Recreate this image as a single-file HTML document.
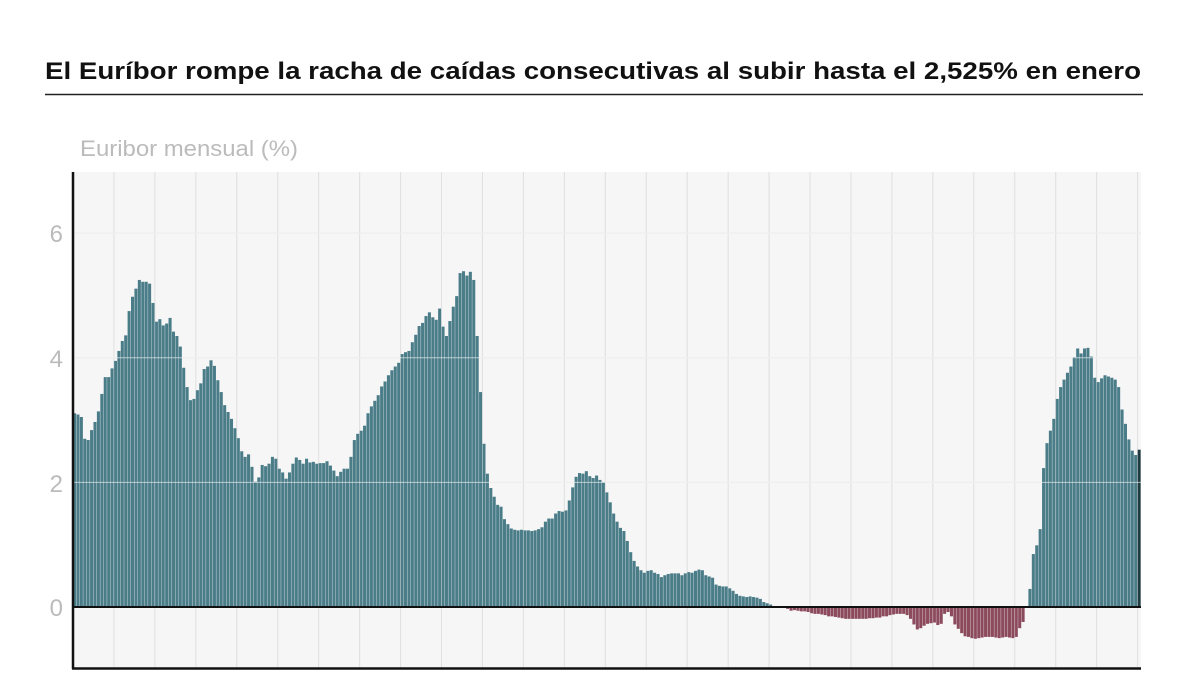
<!DOCTYPE html>
<html><head><meta charset="utf-8"><style>
body{margin:0;background:#fff;width:1200px;height:675px;overflow:hidden;font-family:"Liberation Sans",sans-serif}
</style></head><body>
<svg id="s" width="1200" height="675" xmlns="http://www.w3.org/2000/svg">
<text x="45" y="79" font-family="Liberation Sans, sans-serif" font-weight="bold" font-size="24" fill="#111" textLength="1096" lengthAdjust="spacingAndGlyphs">El Euríbor rompe la racha de caídas consecutivas al subir hasta el 2,525% en enero</text>
<line x1="45" y1="94.5" x2="1143" y2="94.5" stroke="#222" stroke-width="1.5"/>
<text x="80" y="156" font-family="Liberation Sans, sans-serif" font-size="22" fill="#bbb" textLength="218" lengthAdjust="spacingAndGlyphs">Euribor mensual (%)</text>
<rect x="73" y="172" width="1068" height="496" fill="#f6f6f6"/>
<g id="grid"></g>
<g id="bars"></g>
<g id="grid2"></g>
<text x="63" y="242" text-anchor="end" font-size="24" fill="#bbb" font-family="Liberation Sans, sans-serif">6</text>
<text x="63" y="367" text-anchor="end" font-size="24" fill="#bbb" font-family="Liberation Sans, sans-serif">4</text>
<text x="63" y="492" text-anchor="end" font-size="24" fill="#bbb" font-family="Liberation Sans, sans-serif">2</text>
<text x="63" y="616" text-anchor="end" font-size="24" fill="#bbb" font-family="Liberation Sans, sans-serif">0</text>
<line x1="73" y1="172" x2="73" y2="669" stroke="#111" stroke-width="2.5"/>
<line x1="72" y1="668.5" x2="1141" y2="668.5" stroke="#111" stroke-width="2.5"/>
<line x1="73" y1="607" x2="1141" y2="607" stroke="#111" stroke-width="2"/>
</svg>
<script>
var d=[3.11,3.09,3.05,2.70,2.68,2.84,2.97,3.14,3.42,3.69,3.69,3.83,
3.95,4.11,4.27,4.36,4.75,4.98,5.11,5.25,5.22,5.22,5.19,4.88,
4.58,4.62,4.52,4.55,4.64,4.42,4.35,4.18,3.84,3.53,3.32,3.34,
3.48,3.59,3.82,3.86,3.96,3.87,3.64,3.45,3.24,3.13,3.02,2.87,
2.71,2.50,2.41,2.45,2.25,2.01,2.08,2.28,2.26,2.30,2.41,2.38,
2.22,2.16,2.06,2.16,2.30,2.40,2.36,2.30,2.38,2.32,2.33,2.30,
2.31,2.31,2.34,2.27,2.19,2.10,2.17,2.22,2.22,2.41,2.68,2.78,
2.83,2.91,3.11,3.22,3.31,3.40,3.54,3.62,3.72,3.80,3.86,3.92,
4.06,4.09,4.11,4.25,4.37,4.51,4.56,4.67,4.73,4.65,4.61,4.79,
4.50,4.35,4.59,4.82,4.99,5.36,5.39,5.32,5.38,5.25,4.35,3.45,
2.62,2.14,1.91,1.77,1.64,1.61,1.41,1.33,1.26,1.24,1.23,1.24,
1.23,1.23,1.22,1.23,1.25,1.28,1.37,1.42,1.42,1.50,1.54,1.53,
1.55,1.71,1.92,2.09,2.15,2.14,2.18,2.10,2.07,2.11,2.04,2.00,
1.84,1.68,1.50,1.37,1.27,1.22,1.06,0.88,0.74,0.65,0.59,0.55,
0.58,0.59,0.55,0.53,0.48,0.51,0.53,0.54,0.54,0.54,0.51,0.54,
0.56,0.55,0.58,0.60,0.59,0.51,0.49,0.47,0.36,0.34,0.33,0.33,
0.30,0.26,0.21,0.18,0.17,0.16,0.17,0.16,0.15,0.13,0.08,0.06,
0.04,-0.01,-0.01,-0.01,-0.01,-0.03,-0.06,-0.05,-0.06,-0.07,-0.07,-0.08,
-0.10,-0.11,-0.11,-0.12,-0.13,-0.15,-0.15,-0.16,-0.17,-0.18,-0.19,-0.19,
-0.19,-0.19,-0.19,-0.19,-0.19,-0.18,-0.18,-0.17,-0.17,-0.15,-0.15,-0.13,
-0.12,-0.11,-0.11,-0.11,-0.13,-0.19,-0.28,-0.36,-0.34,-0.30,-0.27,-0.26,
-0.25,-0.29,-0.27,-0.11,-0.08,-0.15,-0.28,-0.35,-0.42,-0.47,-0.48,-0.50,
-0.51,-0.50,-0.49,-0.48,-0.48,-0.48,-0.49,-0.50,-0.49,-0.48,-0.49,-0.50,
-0.48,-0.34,-0.24,0.01,0.29,0.85,0.99,1.25,2.23,2.63,2.83,3.02,
3.34,3.53,3.65,3.76,3.86,4.01,4.15,4.07,4.15,4.16,4.02,3.68,
3.61,3.67,3.72,3.70,3.68,3.65,3.53,3.17,2.94,2.69,2.51,2.44,2.525];
var NS="http://www.w3.org/2000/svg",x0=73,W=1068,bw=W/d.length,y0=607,k=62.3;
function el(p,t,a){var e=document.createElementNS(NS,t);for(var i in a)e.setAttribute(i,a[i]);document.getElementById(p).appendChild(e);}
for(var i=0;i<d.length;i++){var v=d[i],h=Math.abs(v)*k;
el("bars","rect",{x:x0+i*bw,y:v>=0?y0-h:y0,width:bw-0.35,height:Math.max(h,0.5),fill:i==d.length-1?"#1e3a40":(v>=0?"#4b7d89":"#8c4a5d")});}
for(var j=1;j<=26;j++){var x=x0+j*12*bw;el("grid","line",{x1:x,y1:172,x2:x,y2:668,stroke:"#d9d9d9","stroke-width":1});
el("grid2","line",{x1:x,y1:172,x2:x,y2:668,stroke:"#ffffff","stroke-opacity":0.2,"stroke-width":1});}
[2,4,6].forEach(function(v){var y=y0-v*k;el("grid","line",{x1:73,y1:y,x2:1141,y2:y,stroke:"#d9d9d9"});el("grid2","line",{x1:73,y1:y,x2:1141,y2:y,stroke:"#fff","stroke-opacity":0.6});});
</script>
</body></html>
